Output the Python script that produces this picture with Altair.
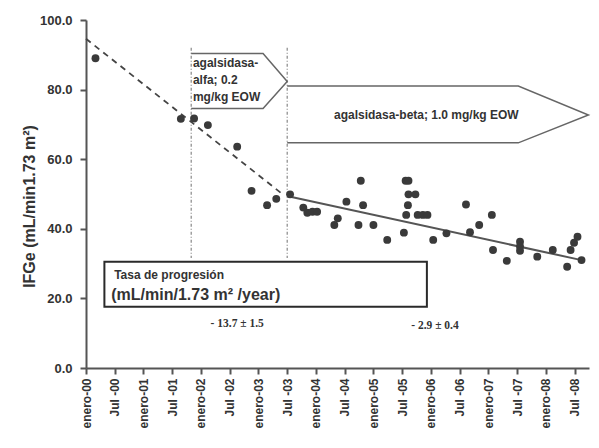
import altair as alt
import pandas as pd

# ---- data ----
years = [2000.165, 2001.65, 2001.88, 2002.12, 2002.63, 2002.88, 2003.15, 2003.31,
         2003.55, 2003.78, 2003.85, 2003.94, 2004.02, 2004.32, 2004.38, 2004.53,
         2004.74, 2004.78, 2004.82, 2005.00, 2005.24, 2005.53, 2005.56, 2005.61,
         2005.57, 2005.60, 2005.61, 2005.73, 2005.77, 2005.86, 2005.94, 2006.04,
         2006.27, 2006.61, 2006.68, 2006.84, 2007.06, 2007.08, 2007.32, 2007.55,
         2007.55, 2007.55, 2007.85, 2008.12, 2008.37, 2008.43, 2008.49, 2008.55,
         2008.62]
ifge = [89.0, 71.6, 71.7, 69.8, 63.6, 50.9, 46.8, 48.6,
        49.9, 46.1, 44.6, 44.9, 44.9, 41.1, 43.0, 47.8,
        41.1, 53.8, 46.8, 41.1, 36.8, 38.9, 53.8, 53.8,
        44.0, 46.8, 49.9, 49.9, 44.0, 44.0, 44.0, 36.8,
        38.7, 47.0, 39.0, 41.1, 44.0, 33.9, 30.8, 36.3,
        34.9, 33.7, 32.0, 33.9, 29.1, 33.9, 36.0, 37.7,
        31.0]

# regression lines (endpoints)
alfa_fit_x = [2000.0, 2003.40]
alfa_fit_y = [94.6, 50.2]
beta_fit_x = [2003.555, 2008.62]
beta_fit_y = [49.2, 31.0]

tick_values = [2000 + 0.5 * i for i in range(18)]
tick_labels = ["enero-00", "Jul -00", "enero-01", "Jul -01", "enero-02", "Jul -02",
               "enero-03", "Jul -03", "enero-04", "Jul -04", "enero-05", "Jul -05",
               "enero-06", "Jul -06", "enero-07", "Jul -07", "enero-08", "Jul -08"]

rate_alfa = "- 13.7 ± 1.5"
rate_beta = "- 2.9 ± 0.4"

# treatment switch dates
start_alfa = 2001.83
start_beta = 2003.50

FONT = "Liberation Sans"
DARK = "#333333"

x_scale = alt.Scale(domain=[2000, 2008.75], nice=False, zero=False)
y_scale = alt.Scale(domain=[0, 100], nice=False)

label_expr = "[" + ",".join("'%s'" % t for t in tick_labels) + "][round((datum.value - 2000) * 2)]"

X = alt.X("x:Q", scale=x_scale,
          axis=alt.Axis(values=tick_values, labelExpr=label_expr, title=None,
                        labelAngle=-90, labelAlign="right", labelBaseline="middle",
                        labelPadding=4, labelFontSize=12, labelOverlap=False,
                        labelFlush=False))
Y = alt.Y("y:Q", scale=y_scale,
          axis=alt.Axis(values=[0, 20, 40, 60, 80, 100], format=".1f",
                        title="IFGe  (mL/min1.73 m²)", titleFontSize=16,
                        titlePadding=2, titleY=186, labelPadding=8, labelFontSize=13))

pts = pd.DataFrame({"x": years, "y": ifge})
points = alt.Chart(pts).mark_circle(size=62, color="#3a3a3a", opacity=1).encode(x=X, y=Y)

fit1 = alt.Chart(pd.DataFrame({"x": alfa_fit_x, "y": alfa_fit_y})).mark_line(
    color="#444444", strokeWidth=1.8, strokeDash=[6, 5]).encode(x=X, y=Y)
fit2 = alt.Chart(pd.DataFrame({"x": beta_fit_x, "y": beta_fit_y})).mark_line(
    color="#555555", strokeWidth=2).encode(x=X, y=Y)

# vertical switch lines
vl = pd.DataFrame({"x": [start_alfa, start_beta], "y": [92.0, 92.0], "y2": [31.6, 31.6]})
vlines = alt.Chart(vl).mark_rule(color="#888888", strokeWidth=1.2, strokeDash=[3, 2, 1, 2]).encode(
    x=X, y=Y, y2="y2:Q")

# arrow shaped labels (open on the left, where the switch line is)
arrows = pd.DataFrame({
    "shape": ["a"] * 5 + ["b"] * 5,
    "order": list(range(5)) * 2,
    "x": [start_alfa, 2003.08, start_beta, 2003.08, start_alfa,
          start_beta, 2007.52, 2008.74, 2007.52, start_beta],
    "y": [90.4, 90.4, 82.3, 74.6, 74.6,
          81.0, 81.0, 72.7, 64.7, 64.7],
})
arrow_lines = alt.Chart(arrows).mark_line(color="#666666", strokeWidth=1.5).encode(
    x=X, y=Y, detail="shape:N", order="order:Q")

# rate box
box = alt.Chart(pd.DataFrame({"x": [2000.32], "x2": [2005.93], "y": [30.5], "y2": [17.6]})).mark_rect(
    fill="white", stroke="#2a2a2a", strokeWidth=2).encode(x=X, x2="x2:Q", y=Y, y2="y2:Q")

def txt(df, **kw):
    return alt.Chart(df).mark_text(font=FONT, color=DARK, **kw).encode(x=X, y=Y, text="t:N")

t_alfa = txt(pd.DataFrame({"x": [2001.86] * 3, "y": [87.6, 82.9, 77.8],
                           "t": ["agalsidasa-", "alfa; 0.2", "mg/kg EOW"]}),
             align="left", baseline="middle", fontSize=12, fontWeight="bold")
t_beta = txt(pd.DataFrame({"x": [2005.92], "y": [72.7], "t": ["agalsidasa-beta; 1.0 mg/kg EOW"]}),
             align="center", baseline="middle", fontSize=12, fontWeight="bold")
t_box1 = txt(pd.DataFrame({"x": [2000.49], "y": [26.8], "t": ["Tasa de progresión"]}),
             align="left", baseline="middle", fontSize=12, fontWeight="bold")
t_box2 = txt(pd.DataFrame({"x": [2000.44], "y": [20.9], "t": ["(mL/min/1.73 m² /year)"]}),
             align="left", baseline="middle", fontSize=16, fontWeight="bold")
t_rates = alt.Chart(pd.DataFrame({"x": [2002.63, 2006.07], "y": [12.6, 12.1],
                                  "t": [rate_alfa, rate_beta]})).mark_text(
    font="Liberation Serif", color=DARK, fontSize=11.5, fontWeight="bold",
    align="center", baseline="middle").encode(x=X, y=Y, text="t:N")

chart = alt.layer(
    vlines, box, arrow_lines, fit1, fit2, points,
    t_alfa, t_beta, t_box1, t_box2, t_rates
).properties(
    width=503, height=348,
    autosize=alt.AutoSizeParams(type="none"),
    padding={"left": 78, "top": 12, "right": 2, "bottom": 64},
).configure_view(stroke=None).configure_axis(
    grid=False, domainColor="#555555", domainWidth=2, tickColor="#555555",
    tickWidth=2, tickSize=6, labelColor=DARK, labelFont=FONT, labelFontWeight="bold",
    titleFont=FONT, titleFontWeight="bold", titleColor=DARK,
)

chart.save("out.html", embed_options={"renderer": "svg", "actions": False})
